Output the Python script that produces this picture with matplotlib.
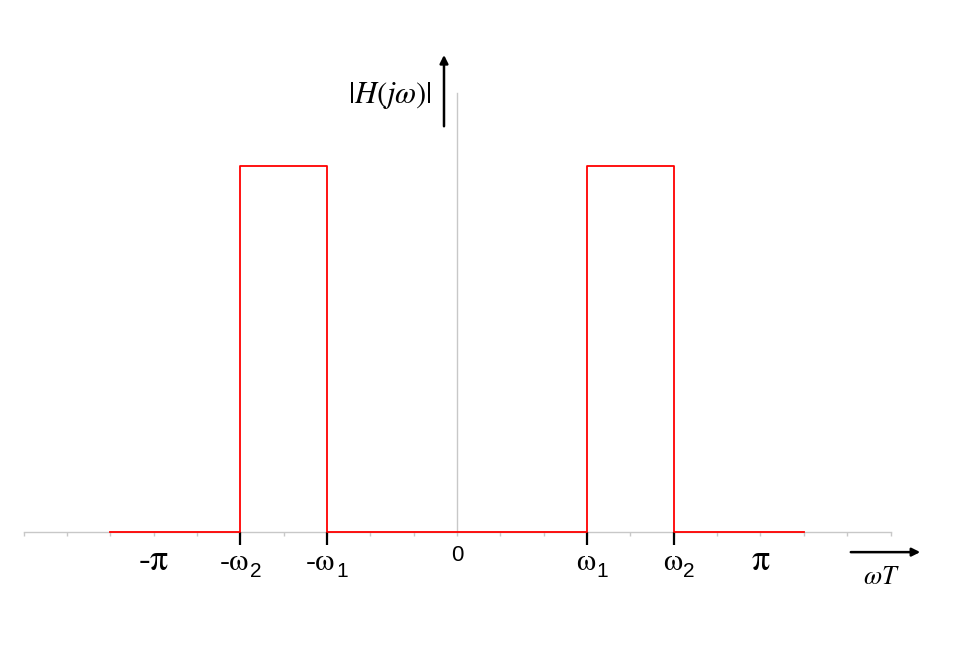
import matplotlib
matplotlib.use("Agg")
import matplotlib.pyplot as plt
import numpy as np

# x in tick units (one unit per small tick), y: passband height = 1
tick_pos = np.arange(-10, 11)
resp_x = [-8, -5, -5, -3, -3, 3, 3, 5, 5, 8]
resp_y = [0, 0, 1, 1, 0, 0, 1, 1, 0, 0]
edge_pos = [-5, -3, 3, 5]
pi_pos = [-7, 7]
pi_labels = ["-π", "π"]
w_labels = [("-ω", "2"), ("-ω", "1"), ("ω", "1"), ("ω", "2")]

fig = plt.figure(figsize=(9.61, 6.51), dpi=100)
ax = fig.add_axes([0, 0, 1, 1])
ux = 43.35  # px per x unit
uy = 366.0  # px per y unit
ax.set_xlim(-457 / ux, (961 - 457) / ux)
ax.set_ylim(-(651 - 532) / uy, 532 / uy)
ax.axis("off")

# axes (gray)
ax.plot([tick_pos[0], tick_pos[-1]], [0, 0], color="#c8c8c8", lw=1, zorder=1)
ax.plot([0, 0], [0, 1.2], color="#c8c8c8", lw=1, zorder=1)
ax.vlines(tick_pos, -4 / uy, 0, color="#c8c8c8", lw=1, zorder=1)
ax.vlines(edge_pos, -13 / uy, 0, color="black", lw=1.6, zorder=2)

# response
ax.plot(resp_x, resp_y, color="red", lw=1.3, zorder=3)

# tick labels
for p, s in zip(pi_pos, pi_labels):
    ax.text(p, -0.08, s, ha="center", va="center", fontsize=26,
            family="STIXGeneral")
for p, (s, sub) in zip(edge_pos, w_labels):
    ax.text(p + 0.2, -0.085, s, ha="right", va="center", fontsize=22,
            family="STIXGeneral")
    ax.text(p + 0.22, -0.107, sub, ha="left", va="center", fontsize=15,
            family="Liberation Sans")
ax.text(0, -0.063, "0", ha="center", va="center", fontsize=16,
        family="Liberation Sans")

# axis arrows and names
ax.annotate("", xy=(-0.30, 1.311), xytext=(-0.30, 1.101),
            arrowprops=dict(arrowstyle="-|>", color="black", lw=1.8,
                            mutation_scale=12))
ax.text(-1.55, 1.193, r"$|H(j\omega)|$", ha="center", va="center",
        fontsize=22, math_fontfamily="stix")
ax.annotate("", xy=(10.75, -0.055), xytext=(9.02, -0.055),
            arrowprops=dict(arrowstyle="-|>", color="black", lw=1.8,
                            mutation_scale=12))
ax.text(9.78, -0.123, r"$\omega T$", ha="center", va="center",
        fontsize=19, math_fontfamily="stix")

fig.savefig("out.png", dpi=100)
